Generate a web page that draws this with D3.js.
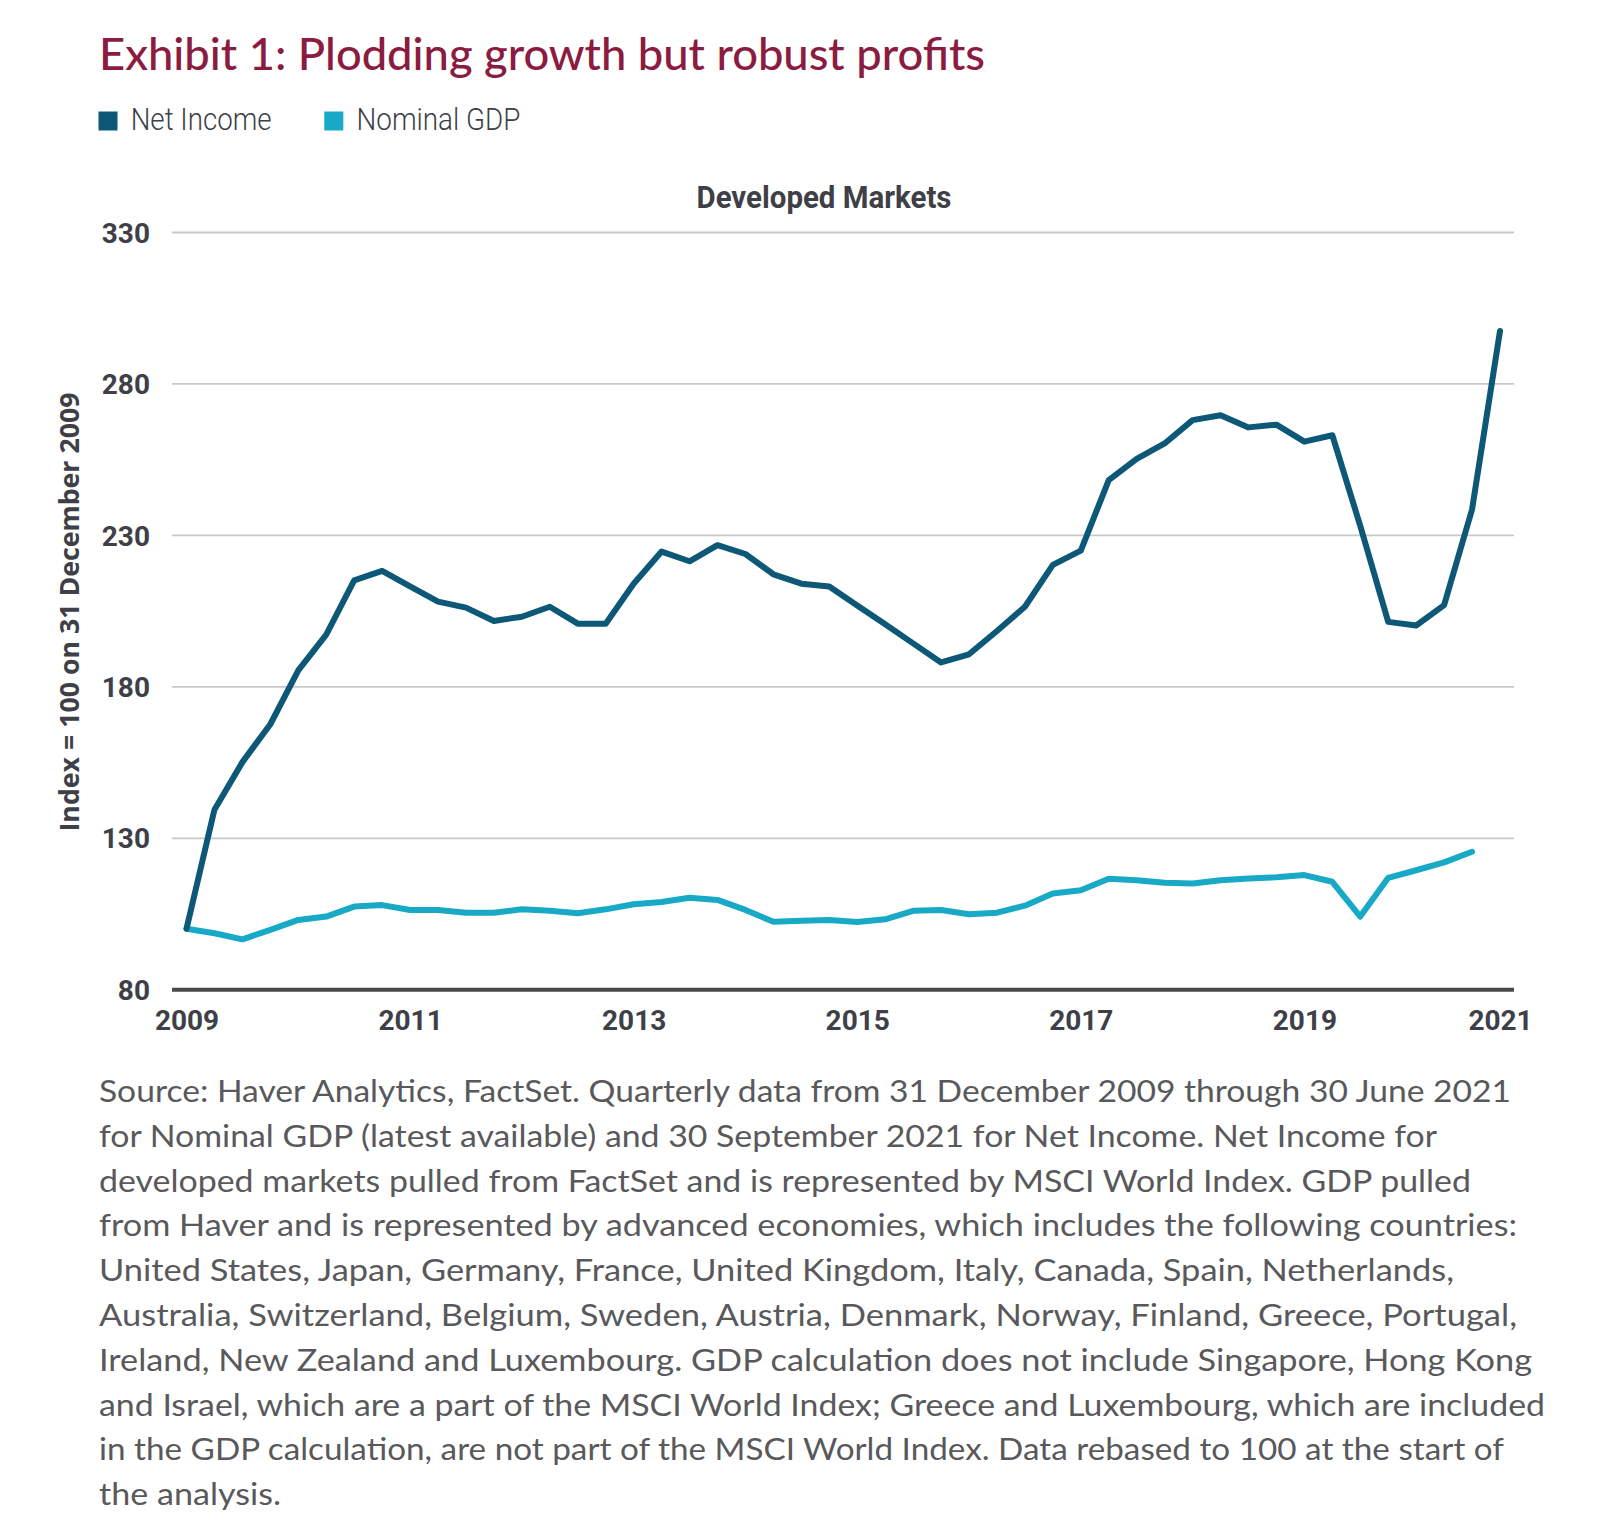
<!DOCTYPE html>
<html>
<head>
<meta charset="utf-8">
<script src="https://cdn.jsdelivr.net/npm/d3@7"></script>
<style>
  html, body { margin: 0; padding: 0; background: #ffffff; }
  svg { display: block; }
</style>
</head>
<body>
<svg id="chart" width="1600" height="1532"></svg>
<script>
// ---------------- DATA ----------------
const quarters = [
  "Dec 2009",
  "Mar 2010","Jun 2010","Sep 2010","Dec 2010",
  "Mar 2011","Jun 2011","Sep 2011","Dec 2011",
  "Mar 2012","Jun 2012","Sep 2012","Dec 2012",
  "Mar 2013","Jun 2013","Sep 2013","Dec 2013",
  "Mar 2014","Jun 2014","Sep 2014","Dec 2014",
  "Mar 2015","Jun 2015","Sep 2015","Dec 2015",
  "Mar 2016","Jun 2016","Sep 2016","Dec 2016",
  "Mar 2017","Jun 2017","Sep 2017","Dec 2017",
  "Mar 2018","Jun 2018","Sep 2018","Dec 2018",
  "Mar 2019","Jun 2019","Sep 2019","Dec 2019",
  "Mar 2020","Jun 2020","Sep 2020","Dec 2020",
  "Mar 2021","Jun 2021","Sep 2021"
];

const netIncome = [
  100, 139.3, 155.0, 167.5, 185.3, 197.1, 215.0, 218.1,
  213.0, 208.0, 206.0, 201.6, 203.0, 206.3, 200.7, 200.7,
  213.9, 224.5, 221.3, 226.6, 223.7, 217.0, 213.9, 213.0,
  206.7, 200.5, 194.2, 187.9, 190.6, 198.3, 206.3, 220.1,
  224.8, 248.1, 255.1, 260.2, 267.9, 269.5, 265.5, 266.4,
  260.8, 262.9, 233.0, 201.3, 200.1, 206.8, 238.4, 297.3
];

const nominalGDP = [
  100, 98.5, 96.5, 99.6, 102.9, 104.0, 107.3, 107.8,
  106.2, 106.2, 105.3, 105.3, 106.4, 105.9, 105.1, 106.4,
  108.1, 108.8, 110.2, 109.5, 106.2, 102.3, 102.6, 102.9,
  102.2, 103.1, 105.9, 106.2, 104.8, 105.3, 107.6, 111.6,
  112.7, 116.5, 116.0, 115.2, 114.9, 116.0, 116.6, 117.0,
  117.7, 115.5, 104.0, 116.8, 119.3, 121.9, 125.4
];

const seriesNames = ["Net Income", "Nominal GDP"];
const yTicks = [80, 130, 180, 230, 280, 330];
const xTickQuarters = ["Dec 2009","Dec 2011","Dec 2013","Dec 2015","Dec 2017","Dec 2019","Sep 2021"];
const xTickLabels = ["2009","2011","2013","2015","2017","2019","2021"];

const titleText = "Exhibit 1: Plodding growth but robust profits";
const panelTitle = "Developed Markets";
const yAxisTitle = "Index = 100 on 31 December 2009";
const footnoteLines = [
  "Source: Haver Analytics, FactSet. Quarterly data from 31 December 2009 through 30 June 2021",
  "for Nominal GDP (latest available) and 30 September 2021 for Net Income. Net Income for",
  "developed markets pulled from FactSet and is represented by MSCI World Index. GDP pulled",
  "from Haver and is represented by advanced economies, which includes the following countries:",
  "United States, Japan, Germany, France, United Kingdom, Italy, Canada, Spain, Netherlands,",
  "Australia, Switzerland, Belgium, Sweden, Austria, Denmark, Norway, Finland, Greece, Portugal,",
  "Ireland, New Zealand and Luxembourg. GDP calculation does not include Singapore, Hong Kong",
  "and Israel, which are a part of the MSCI World Index; Greece and Luxembourg, which are included",
  "in the GDP calculation, are not part of the MSCI World Index. Data rebased to 100 at the start of",
  "the analysis."
];

// ---------------- LAYOUT / STYLE ----------------
const colors = { net: "#0d5876", gdp: "#18a9c6", title: "#8b1b40", text: "#3e3f47", foot: "#59595c", grid: "#c8c8c8", axis: "#4a4a4c" };
const footWidths = [1412, 1338, 1372, 1418, 1355, 1418, 1433, 1446, 1405, 182];
const plot = { left: 172, right: 1514, top: 232, bottom: 989.3, firstX: 186.5, lastX: 1500 };

const svg = d3.select("#chart");

const x = d3.scalePoint().domain(quarters).range([plot.firstX, plot.lastX]);
const y = d3.scaleLinear().domain([80, 330]).range([plot.bottom, plot.top]);

function fitText(sel, w) {
  sel.attr("textLength", w).attr("lengthAdjust", "spacingAndGlyphs");
}

// Title
svg.append("text")
  .attr("x", 99).attr("y", 70)
  .attr("font-family", "Lato, 'Noto Sans', sans-serif")
  .attr("font-size", 45).attr("font-weight", 500)
  .attr("fill", colors.title)
  .text(titleText)
  .call(fitText, 886);

// Legend
const legendItems = [
  { name: seriesNames[0], color: colors.net, sx: 98.5, tx: 130.7, w: 141 },
  { name: seriesNames[1], color: colors.gdp, sx: 324.3, tx: 356.5, w: 164 }
];
const lg = svg.append("g");
legendItems.forEach(d => {
  lg.append("rect").attr("x", d.sx).attr("y", 111.5).attr("width", 19).attr("height", 19).attr("fill", d.color);
  lg.append("text").attr("x", d.tx).attr("y", 130)
    .attr("font-family", "Roboto, sans-serif").attr("font-weight", 300).attr("font-size", 31)
    .attr("fill", colors.text).text(d.name).call(fitText, d.w);
});

// Panel title
svg.append("text")
  .attr("x", 824).attr("y", 208.3).attr("text-anchor", "middle")
  .attr("font-family", "Roboto, sans-serif").attr("font-weight", 700).attr("font-size", 32)
  .attr("fill", colors.text).text(panelTitle).call(fitText, 255);

// Y axis with gridlines
const yAxisG = svg.append("g")
  .attr("transform", `translate(${plot.left},0)`)
  .call(d3.axisLeft(y).tickValues(yTicks).tickSize(-(plot.right - plot.left)).tickPadding(22).tickFormat(d3.format("d")));
yAxisG.select(".domain").remove();
yAxisG.selectAll(".tick line")
  .attr("stroke", d => d === 80 ? colors.axis : colors.grid)
  .attr("stroke-width", d => d === 80 ? 4 : 1.8);
yAxisG.selectAll(".tick text")
  .attr("font-family", "Roboto, sans-serif").attr("font-weight", 700).attr("font-size", 28)
  .attr("fill", colors.text).attr("dy", "0.36em");

// X axis labels
const xAxisG = svg.append("g")
  .attr("transform", `translate(0,${plot.bottom})`)
  .call(d3.axisBottom(x).tickValues(xTickQuarters).tickSize(0)
        .tickFormat(q => xTickLabels[xTickQuarters.indexOf(q)]));
xAxisG.select(".domain").remove();
xAxisG.selectAll(".tick text")
  .attr("y", 40.7).attr("dy", 0)
  .attr("font-family", "Roboto, sans-serif").attr("font-weight", 700).attr("font-size", 28)
  .attr("fill", colors.text);

// Y axis title
svg.append("text")
  .attr("transform", "translate(79,612) rotate(-90)")
  .attr("text-anchor", "middle")
  .attr("font-family", "'Open Sans', 'DejaVu Sans', sans-serif").attr("font-weight", 700).attr("font-size", 26)
  .attr("fill", colors.text).text(yAxisTitle).call(fitText, 439);

// Lines
const line = d3.line().x(d => x(d.q)).y(d => y(d.v));
const gdpData = nominalGDP.map((v, i) => ({ q: quarters[i], v }));
const netData = netIncome.map((v, i) => ({ q: quarters[i], v }));

svg.append("path").datum(gdpData)
  .attr("d", line).attr("fill", "none").attr("stroke", colors.gdp)
  .attr("stroke-width", 6).attr("stroke-linejoin", "round").attr("stroke-linecap", "round");
svg.append("path").datum(netData)
  .attr("d", line).attr("fill", "none").attr("stroke", colors.net)
  .attr("stroke-width", 6).attr("stroke-linejoin", "round").attr("stroke-linecap", "round");

// Footnote
const fg = svg.append("g");
footnoteLines.forEach((t, i) => {
  fg.append("text")
    .attr("x", 99).attr("y", 1102 + i * 44.8)
    .attr("font-family", "Lato, 'Noto Sans', sans-serif").attr("font-size", 30)
    .attr("fill", colors.foot).text(t).call(fitText, footWidths[i]);
});
</script>
</body>
</html>
